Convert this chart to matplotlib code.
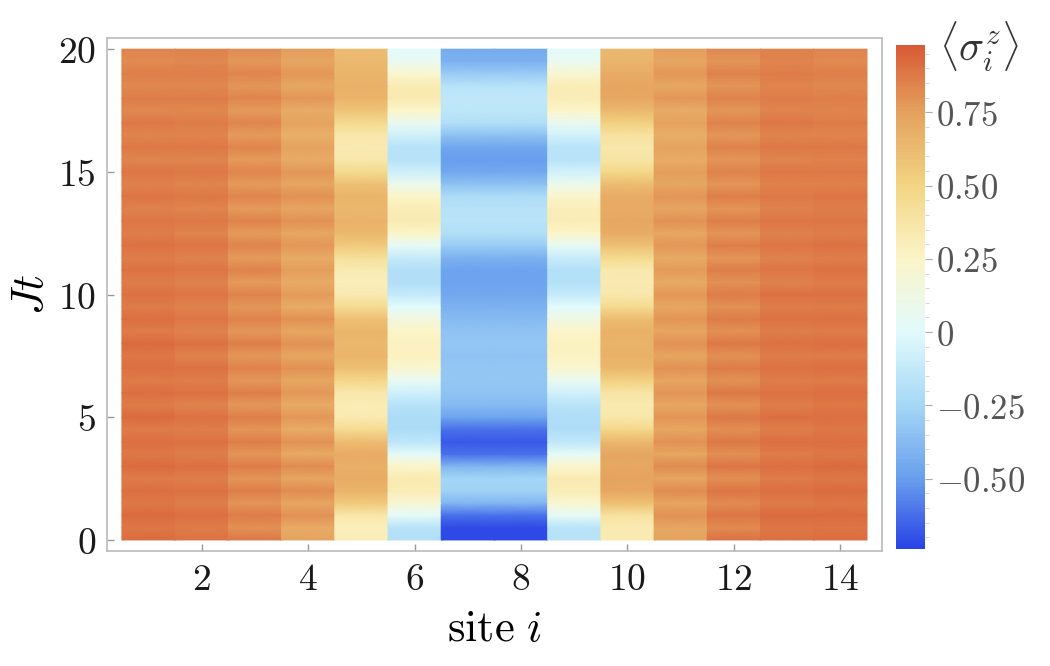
import numpy as np
import matplotlib
matplotlib.use("Agg")
import matplotlib.pyplot as plt
from matplotlib.colors import LinearSegmentedColormap
from matplotlib.ticker import MultipleLocator, FixedLocator

plt.rcParams['mathtext.fontset'] = 'cm'
plt.rcParams['font.family'] = ['DejaVu Serif']

# time grid (Jt) and sites
times = np.arange(0, 20.01, 0.5)
sites = np.arange(1, 15)

site1 = [0.92,0.88,0.92,0.88,0.91,0.87,0.92,0.88,0.91,0.87,0.92,0.87,0.91,0.87,0.91,0.88,0.92,0.87,0.91,0.87,0.90,0.86,0.90,0.86,0.90,0.86,0.89,0.85,0.89,0.85,0.89,0.84,0.88,0.84,0.88,0.83,0.87,0.83,0.86,0.82,0.84]
site2 = [0.90,0.87,0.91,0.86,0.90,0.86,0.91,0.86,0.90,0.86,0.90,0.85,0.90,0.86,0.90,0.85,0.90,0.85,0.89,0.85,0.89,0.85,0.89,0.85,0.89,0.84,0.88,0.84,0.88,0.84,0.88,0.84,0.88,0.84,0.87,0.83,0.87,0.83,0.86,0.83,0.85]
site3 = [0.88,0.80,0.87,0.79,0.86,0.79,0.87,0.79,0.86,0.79,0.86,0.78,0.86,0.78,0.85,0.78,0.86,0.78,0.85,0.78,0.85,0.77,0.85,0.77,0.84,0.77,0.85,0.77,0.84,0.77,0.84,0.77,0.84,0.77,0.84,0.77,0.84,0.78,0.84,0.78,0.82]
site4 = [0.74,0.70,0.80,0.72,0.82,0.72,0.82,0.71,0.80,0.70,0.78,0.70,0.78,0.72,0.80,0.72,0.80,0.72,0.80,0.70,0.77,0.70,0.76,0.70,0.78,0.72,0.80,0.73,0.80,0.73,0.78,0.70,0.74,0.68,0.74,0.70,0.78,0.72,0.78,0.73,0.76]
site5 = [0.32,0.30,0.36,0.55,0.66,0.70,0.68,0.70,0.62,0.45,0.34,0.32,0.36,0.48,0.60,0.66,0.64,0.66,0.60,0.45,0.34,0.31,0.33,0.42,0.55,0.64,0.67,0.65,0.66,0.60,0.46,0.36,0.33,0.36,0.46,0.58,0.66,0.68,0.66,0.64,0.62]
site6 = [-0.20,-0.18,0.02,0.20,0.32,0.34,0.25,0.02,-0.15,-0.22,-0.22,-0.18,-0.08,0.05,0.22,0.28,0.28,0.26,0.15,0.00,-0.12,-0.20,-0.20,-0.12,0.03,0.25,0.33,0.32,0.25,0.08,-0.08,-0.18,-0.18,-0.08,0.06,0.25,0.33,0.33,0.22,0.06,0.00]
site7 = [-0.72,-0.72,-0.62,-0.40,-0.27,-0.26,-0.40,-0.62,-0.68,-0.62,-0.48,-0.38,-0.34,-0.33,-0.33,-0.34,-0.33,-0.34,-0.38,-0.42,-0.46,-0.48,-0.48,-0.42,-0.30,-0.20,-0.17,-0.18,-0.22,-0.35,-0.46,-0.50,-0.47,-0.35,-0.20,-0.15,-0.14,-0.18,-0.30,-0.42,-0.45]
site8 = [-0.72,-0.72,-0.62,-0.40,-0.27,-0.26,-0.40,-0.62,-0.68,-0.62,-0.48,-0.38,-0.34,-0.33,-0.33,-0.34,-0.33,-0.34,-0.38,-0.42,-0.46,-0.48,-0.48,-0.42,-0.30,-0.20,-0.17,-0.18,-0.22,-0.35,-0.46,-0.50,-0.47,-0.35,-0.20,-0.15,-0.14,-0.18,-0.30,-0.42,-0.45]
site9 = [-0.18,-0.17,0.03,0.22,0.32,0.33,0.24,0.03,-0.14,-0.21,-0.21,-0.17,-0.07,0.06,0.22,0.27,0.28,0.25,0.14,0.00,-0.12,-0.19,-0.19,-0.11,0.04,0.25,0.32,0.31,0.24,0.08,-0.07,-0.17,-0.17,-0.07,0.07,0.25,0.32,0.32,0.21,0.06,0.01]
site10 = [0.34,0.33,0.40,0.60,0.72,0.74,0.72,0.73,0.65,0.48,0.36,0.34,0.38,0.52,0.64,0.68,0.66,0.68,0.62,0.46,0.36,0.33,0.35,0.46,0.60,0.70,0.72,0.70,0.70,0.62,0.48,0.38,0.36,0.40,0.52,0.64,0.72,0.73,0.70,0.66,0.64]
site11 = [0.74,0.72,0.80,0.73,0.82,0.73,0.82,0.72,0.80,0.72,0.79,0.72,0.79,0.73,0.80,0.73,0.80,0.73,0.79,0.72,0.78,0.71,0.77,0.71,0.78,0.72,0.80,0.73,0.79,0.72,0.76,0.70,0.74,0.69,0.75,0.70,0.78,0.72,0.78,0.73,0.76]
site12 = [0.90,0.82,0.89,0.82,0.89,0.81,0.89,0.81,0.88,0.81,0.88,0.80,0.88,0.80,0.87,0.80,0.88,0.80,0.87,0.80,0.87,0.80,0.86,0.79,0.86,0.79,0.86,0.79,0.86,0.79,0.85,0.79,0.85,0.78,0.85,0.78,0.85,0.79,0.85,0.79,0.83]
site13 = [0.91,0.88,0.92,0.87,0.91,0.87,0.91,0.87,0.91,0.86,0.91,0.86,0.90,0.86,0.90,0.86,0.90,0.86,0.90,0.86,0.90,0.85,0.89,0.85,0.89,0.85,0.89,0.85,0.88,0.85,0.88,0.84,0.88,0.84,0.88,0.84,0.87,0.84,0.87,0.84,0.85]
site14 = [0.92,0.89,0.92,0.88,0.92,0.88,0.92,0.88,0.91,0.88,0.91,0.88,0.91,0.87,0.91,0.87,0.91,0.87,0.90,0.87,0.90,0.87,0.90,0.86,0.90,0.86,0.89,0.86,0.89,0.85,0.88,0.85,0.88,0.84,0.87,0.84,0.86,0.83,0.86,0.82,0.84]

x_ticks = [2, 4, 6, 8, 10, 12, 14]
y_ticks = [0, 5, 10, 15, 20]
cbar_ticks = [-0.5, -0.25, 0, 0.25, 0.5, 0.75]
cbar_labels = [r'$-0.50$', r'$-0.25$', r'$0$', r'$0.25$', r'$0.50$', r'$0.75$']
vmin, vmax = -0.74, 0.98

data = np.array([site1, site2, site3, site4, site5, site6, site7, site8,
                 site9, site10, site11, site12, site13, site14]).T  # (time, site)

# Colormap (TemperatureMap-like)
anchors = [(-0.74, '#2a44e6'), (-0.5, '#6aa0ee'), (-0.25, '#a6d8f6'),
           (0.0, '#e2fbfd'), (0.25, '#fcf5c9'), (0.5, '#f3d584'),
           (0.75, '#e5a25e'), (0.98, '#d85a36')]
cmap = LinearSegmentedColormap.from_list(
    'temp', [((v - vmin) / (vmax - vmin), c) for v, c in anchors])

fig = plt.figure(figsize=(10.5, 6.66), dpi=100)
ax = fig.add_axes([0.1019, 0.1727, 0.738, 0.770])

# each site is a flat column; smooth along time via gouraud shading
X = np.repeat(np.column_stack([sites - 0.5, sites + 0.5]).ravel()[None, :], len(times), axis=0)
Y = np.repeat(times[:, None], 2 * len(sites), axis=1)
C = np.repeat(data, 2, axis=1)
ax.pcolormesh(X, Y, C, shading='gouraud', cmap=cmap, vmin=vmin, vmax=vmax)

ax.set_xlim(0.22, 14.78)
ax.set_ylim(-0.45, 20.45)
ax.set_xticks(x_ticks)
ax.set_xticklabels([rf'${v}$' for v in x_ticks], fontsize=27, color='#1a1a1a')
ax.set_yticks(y_ticks)
ax.set_yticklabels([rf'${v}$' for v in y_ticks], fontsize=27, color='#1a1a1a')
ax.tick_params(direction='in', length=5, width=1, color='#999999', pad=8)
for s in ax.spines.values():
    s.set_color('#bbbbbb')
    s.set_linewidth(1.2)
ax.set_xlabel(r'$\mathrm{site}\ i$', fontsize=32, labelpad=6)
ax.set_ylabel(r'$Jt$', fontsize=32, labelpad=4)

# colorbar
cax = fig.add_axes([0.8533, 0.1757, 0.0276, 0.7568])
grad = np.linspace(vmin, vmax, 400)[:, None]
cax.imshow(grad, aspect='auto', origin='lower', cmap=cmap, vmin=vmin, vmax=vmax,
           extent=[0, 1, vmin, vmax])
cax.set_xticks([])
cax.yaxis.tick_right()
cax.set_yticks(cbar_ticks)
cax.set_yticklabels(cbar_labels, fontsize=25, color='#555555')
cax.yaxis.set_minor_locator(FixedLocator(np.arange(-0.70, 0.96, 0.05)))
cax.tick_params(axis='y', which='major', direction='out', length=5, color='#aaaaaa', pad=3)
cax.tick_params(axis='y', which='minor', direction='out', length=3, color='#cccccc')
for s in cax.spines.values():
    s.set_visible(False)
fig.text(0.932, 0.93, r'$\langle \sigma_i^z \rangle$', fontsize=30, color='#333333',
         ha='center', va='center')

fig.savefig('out.png', dpi=100)
